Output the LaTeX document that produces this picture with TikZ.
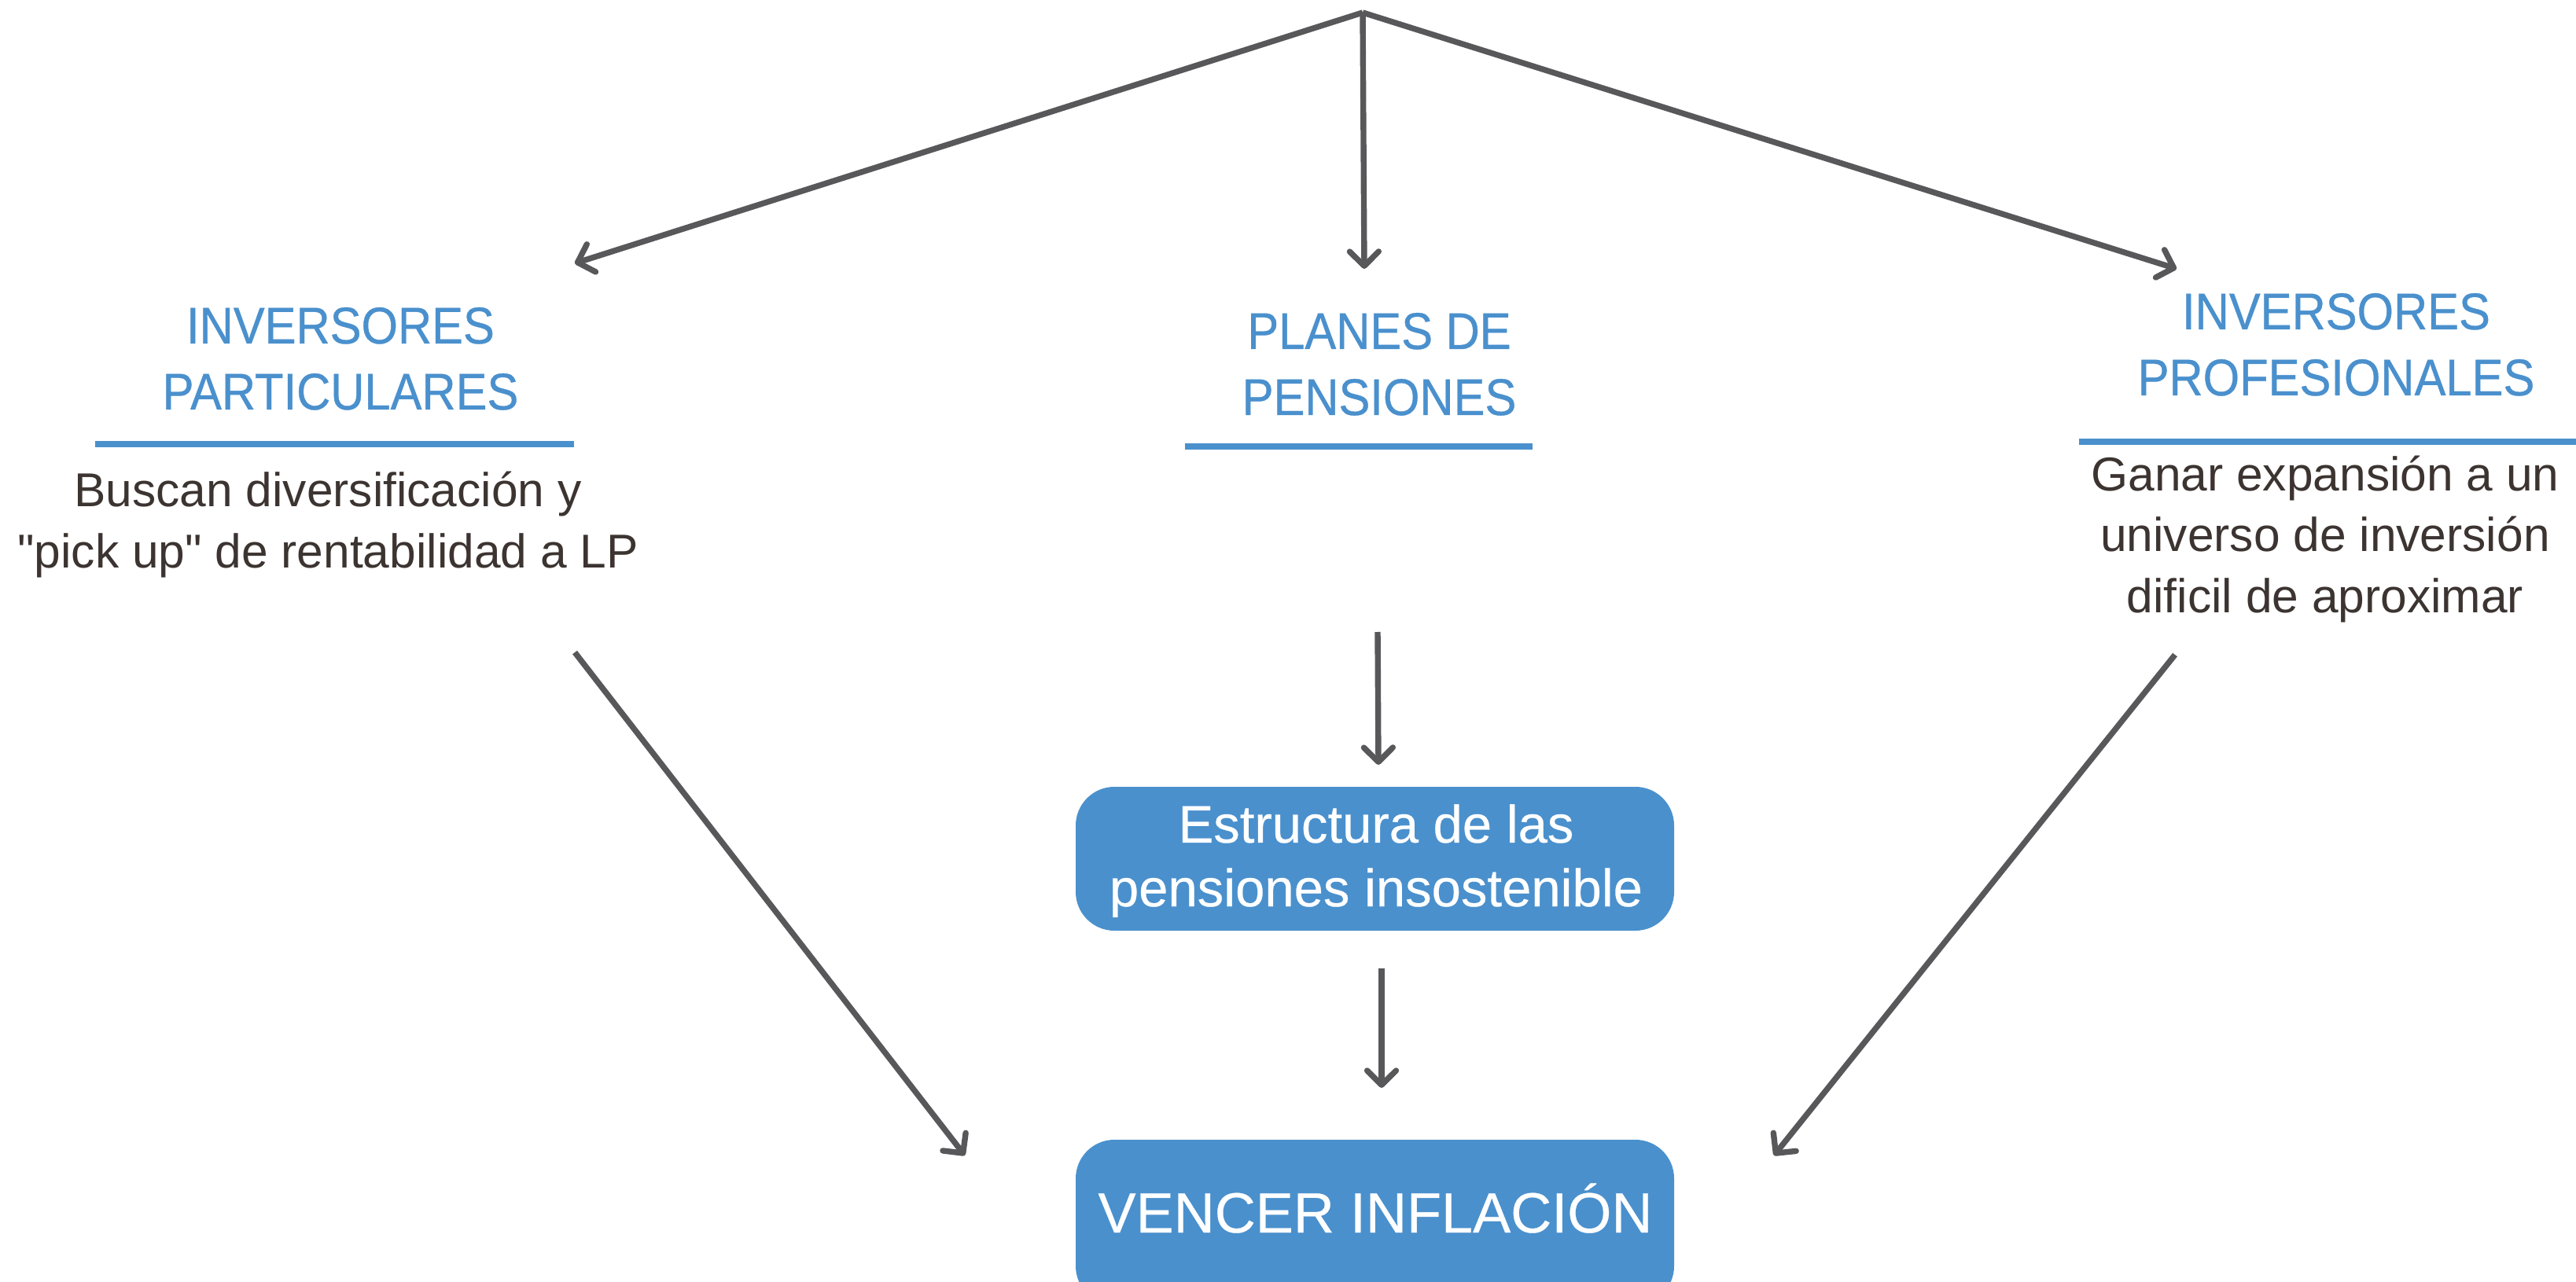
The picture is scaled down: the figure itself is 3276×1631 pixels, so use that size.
\documentclass[tikz,border=0pt]{standalone}
\usepackage{fontspec}
\setmainfont{Liberation Sans}
\newfontfamily\titlefont[FakeStretch=0.91,FakeBold=0.6]{Liberation Sans}
\newfontfamily\boxfont[FakeBold=0.4]{Liberation Sans}
\newfontfamily\descfont[Ligatures=TeXOff]{Liberation Sans}
\usetikzlibrary{arrows.meta}
\definecolor{blu}{HTML}{4A90CD}
\definecolor{arr}{HTML}{58585A}
\definecolor{txt}{HTML}{3C3431}
\tikzset{
  conn/.style={draw=arr, line width=2.1pt, -{Straight Barb[length=5.2pt,width=10.5pt,round]}},
  ttl/.style={anchor=base, align=center, inner sep=0pt, text=blu,
    font=\titlefont\fontsize{18.67pt}{23.9pt}\selectfont},
  desc/.style={anchor=base, align=center, inner sep=0pt, text=txt,
    font=\descfont\fontsize{17.2pt}{21.9pt}\selectfont},
  uline/.style={draw=blu, line width=2.3pt},
  boxs/.style={fill=blu, rounded corners=14pt},
  boxt/.style={anchor=base, align=center, inner sep=0pt, text=white},
}
\begin{document}
\begin{tikzpicture}[x=0.01cm, y=-0.01cm]
\useasboundingbox (0,0) rectangle (3276,1631);
% coordinates
\coordinate (apex) at (1733,16);
\coordinate (tl) at (731,335);
\coordinate (tm) at (1735,342);
\coordinate (tr) at (2768,342);
\coordinate (ls) at (731,830);
\coordinate (le) at (1227,1470);
\coordinate (rs) at (2766,833);
\coordinate (re) at (2256,1470);
\coordinate (m1s) at (1752,804);
\coordinate (m1e) at (1753,973);
\coordinate (m2s) at (1757,1232);
\coordinate (m2e) at (1757,1384);
% titles (anchor = baseline of last line)
\node[ttl] (ip) at (433,521) {INVERSORES\\PARTICULARES};
\node[ttl] (pp) at (1754,528) {PLANES DE\\PENSIONES};
\node[ttl] (pr) at (2971,503) {INVERSORES\\PROFESIONALES};
% underlines
\coordinate (u1a) at (121,565); \coordinate (u1b) at (730,565);
\coordinate (u2a) at (1507,568); \coordinate (u2b) at (1949,568);
\coordinate (u3a) at (2644,562); \coordinate (u3b) at (3290,562);
\draw[uline] (u1a) -- (u1b);
\draw[uline] (u2a) -- (u2b);
\draw[uline] (u3a) -- (u3b);
% descriptions
\node[desc] (ipd) at (417,722) {Buscan diversificación y\\"pick up" de rentabilidad a LP};
\node[desc] (prd) at (2957,779) {Ganar expansión a un\\universo de inversión\\dificil de aproximar};
% boxes
\fill[boxs] (1368,1001) rectangle (2129,1184);
\node[boxt, font=\boxfont\fontsize{19.06pt}{23.05pt}\selectfont] (est) at (1750,1153) {Estructura de las\\pensiones insostenible};
\fill[boxs] (1368,1450) rectangle (2129,1660);
\node[boxt, font=\boxfont\fontsize{20.5pt}{24pt}\selectfont] (ven) at (1749,1568) {VENCER INFLACIÓN};
% connectors
\draw[conn] (apex) -- (tl);
\draw[conn] (apex) -- (tm);
\draw[conn] (apex) -- (tr);
\draw[conn] (ls) -- (le);
\draw[conn] (rs) -- (re);
\draw[conn] (m1s) -- (m1e);
\draw[conn] (m2s) -- (m2e);
\end{tikzpicture}
\end{document}
